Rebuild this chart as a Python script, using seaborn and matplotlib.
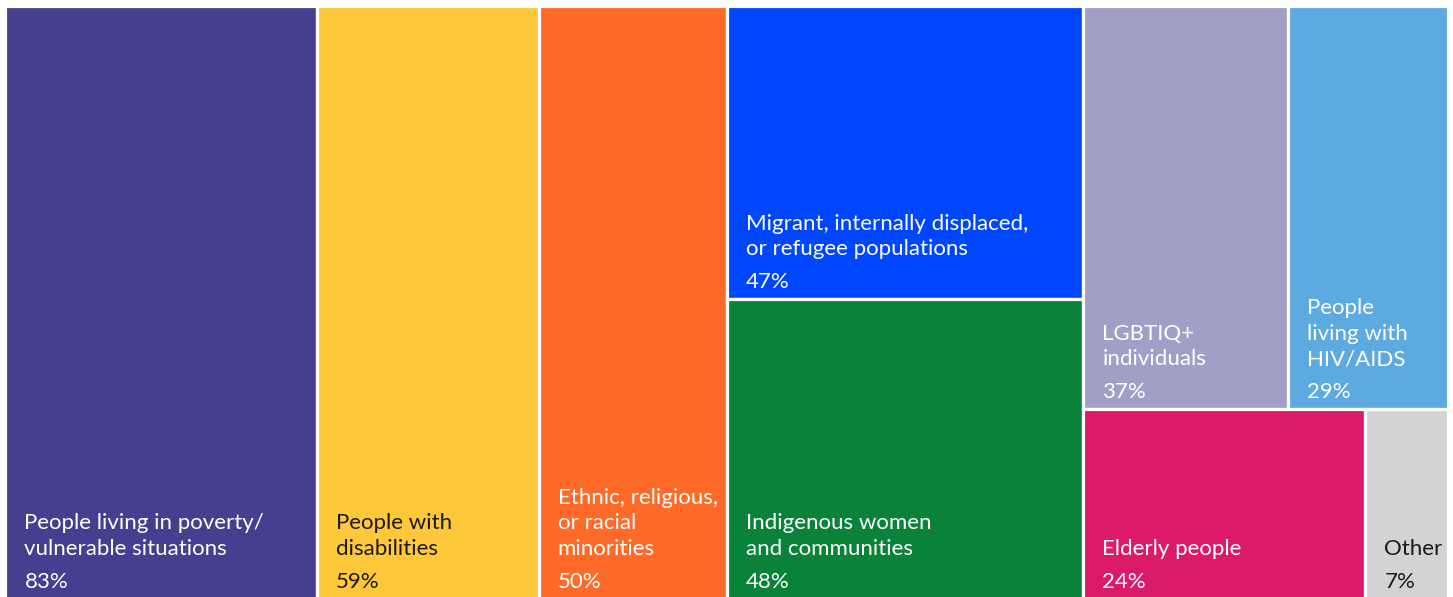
import matplotlib
matplotlib.use("Agg")
import matplotlib.pyplot as plt
from matplotlib.patches import Rectangle
import seaborn as sns

sns.set_theme(style="white")
plt.rcParams['font.family'] = ['Lato', 'DejaVu Sans']

# Data
labels = [
    "People living in poverty/\nvulnerable situations",
    "People with\ndisabilities",
    "Ethnic, religious,\nor racial\nminorities",
    "Migrant, internally displaced,\nor refugee populations",
    "Indigenous women\nand communities",
    "LGBTIQ+\nindividuals",
    "People\nliving with\nHIV/AIDS",
    "Elderly people",
    "Other",
]
values = [83, 59, 50, 47, 48, 37, 29, 24, 7]
colors = ["#453F8F", "#FFC83B", "#FF6A28", "#0046FF", "#0A8239",
          "#A29FC7", "#5DAAE0", "#DC1A6A", "#D2D3D5"]
text_colors = ["white", "#1a1a1a", "white", "white", "white",
               "white", "white", "white", "#1a1a1a"]
# treemap structure: columns -> rows -> items (indices into lists above)
structure = [[[0]], [[1]], [[2]], [[3], [4]], [[5, 6], [7, 8]]]

W, H = 1453, 597
fig = plt.figure(figsize=(W / 100, H / 100), dpi=100)
lw_px = 3.2
ax = fig.add_axes([(7 - lw_px / 2) / W, (0 - lw_px / 2) / H,
                   (1446 - 7 + lw_px) / W, (589 + lw_px) / H])
total = sum(values)
ax.set_xlim(0, total)
ax.set_ylim(0, 1)
ax.axis("off")

fs = 16
x0 = 0.0
for col in structure:
    col_sum = sum(values[i] for row in col for i in row)
    y_top = 1.0
    for row in col:
        row_sum = sum(values[i] for i in row)
        h = row_sum / col_sum
        y0 = y_top - h
        xi = x0
        for i in row:
            w = col_sum * values[i] / row_sum
            ax.add_patch(Rectangle((xi, y0), w, h, facecolor=colors[i],
                                   edgecolor="white", linewidth=lw_px * 0.72))
            ax.annotate(f"{values[i]}%", (xi, y0), xytext=(19, 7),
                        textcoords="offset pixels", ha="left", va="bottom",
                        fontsize=fs, color=text_colors[i])
            ax.annotate(labels[i], (xi, y0), xytext=(19, 40),
                        textcoords="offset pixels", ha="left", va="bottom",
                        fontsize=fs, color=text_colors[i],
                        linespacing=1.34)
            xi += w
        y_top = y0
    x0 += col_sum

fig.savefig("out.png", dpi=100, facecolor="white")
